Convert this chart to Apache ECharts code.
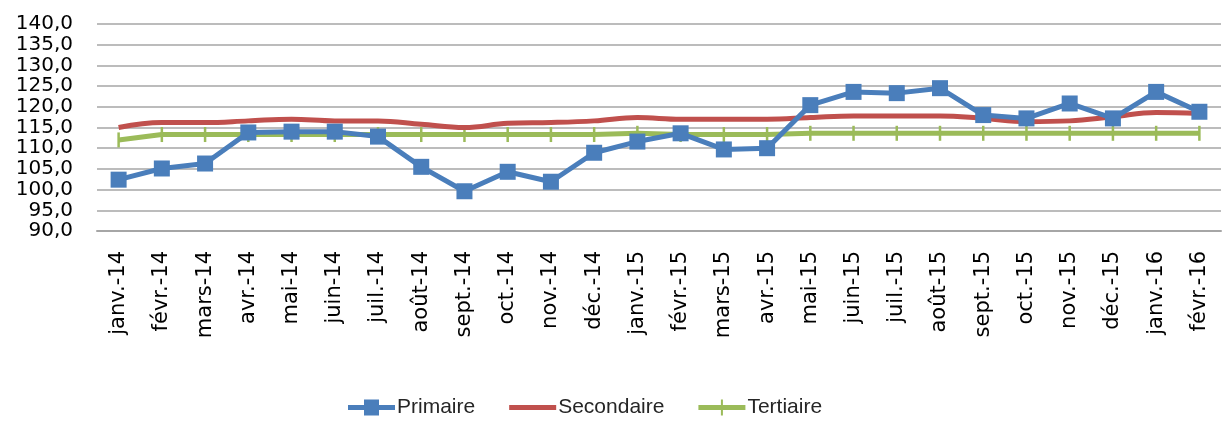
<!DOCTYPE html>
<html>
<head>
<meta charset="utf-8">
<script src="https://cdn.jsdelivr.net/npm/echarts@6/dist/echarts.min.js"></script>
<style>
html,body{margin:0;padding:0;background:#fff;}
#chart{width:1223px;height:423px;}
</style>
</head>
<body>
<div id="chart"></div>
<script>
var categories = ['janv.-14','févr.-14','mars-14','avr.-14','mai-14','juin-14','juil.-14','août-14','sept.-14','oct.-14','nov.-14','déc.-14',
  'janv.-15','févr.-15','mars-15','avr.-15','mai-15','juin-15','juil.-15','août-15','sept.-15','oct.-15','nov.-15','déc.-15','janv.-16','févr.-16'];
var primaire = [102.4,105.1,106.3,113.8,114.0,114.0,112.8,105.5,99.6,104.3,101.9,108.9,
  111.6,113.6,109.7,110.0,120.4,123.6,123.3,124.5,118.0,117.2,120.8,117.2,123.6,118.8];
var secondaire = [115.0,116.2,116.2,116.6,117.0,116.6,116.6,115.8,115.0,116.0,116.2,116.6,
  117.4,117.0,117.0,117.0,117.4,117.8,117.8,117.8,117.2,116.4,116.6,117.6,118.6,118.4];
var tertiaire = [112.0,113.3,113.3,113.3,113.3,113.3,113.3,113.3,113.3,113.3,113.3,113.3,
  113.6,113.3,113.3,113.3,113.6,113.6,113.6,113.6,113.6,113.6,113.6,113.6,113.6,113.6];
var seriesNames = ['Primaire','Secondaire','Tertiaire'];

var iconPrim = 'path://M0,5.5H47V10.5H0Z M16,0H31V16H16Z';
var iconSec = 'path://M0,5.5H47V10.5H0Z M0,0h0.01v0.01h-0.01Z M46.99,15.99h0.01v0.01h-0.01Z';
var iconTer = 'path://M0,5.5H47V10.5H0Z M22.5,0H24.5V16H22.5Z';

var chart = echarts.init(document.getElementById('chart'), null, {renderer:'canvas'});
chart.setOption({
  animation:false,
  backgroundColor:'#fff',
  grid:{left:97,right:2,top:24,bottom:192,containLabel:false},
  legend:{
    data:[{name:seriesNames[0],icon:iconPrim},{name:seriesNames[1],icon:iconSec},{name:seriesNames[2],icon:iconTer}],
    bottom:0,
    left:343,
    itemWidth:47,
    itemHeight:16,
    itemGap:34,
    textStyle:{fontFamily:'"Liberation Sans",sans-serif',fontSize:21,color:'#262626',padding:[0,0,0,-3]}
  },
  xAxis:{
    type:'category',
    data:categories,
    boundaryGap:true,
    axisLine:{show:true,lineStyle:{color:'#A6A6A6',width:2}},
    axisTick:{show:false},
    axisLabel:{interval:0,rotate:90,margin:20,color:'#000',fontFamily:'"DejaVu Sans",sans-serif',fontSize:21}
  },
  yAxis:{
    type:'value',
    min:90,max:140,interval:5,
    axisLine:{show:false},
    axisTick:{show:false},
    splitLine:{show:true,lineStyle:{color:'#A6A6A6',width:1.5}},
    axisLabel:{margin:24,showMinLabel:true,showMaxLabel:true,hideOverlap:false,color:'#000',
      fontFamily:'"DejaVu Sans",sans-serif',fontSize:20,
      formatter:function(v){return v.toFixed(1).replace('.',',');}}
  },
  series:[
    {name:seriesNames[0],type:'line',data:primaire,symbol:'rect',symbolSize:16,
      lineStyle:{color:'#4A7EBB',width:5},itemStyle:{color:'#4A7EBB'},z:3},
    {name:seriesNames[1],type:'line',data:secondaire,symbol:'none',smooth:0.4,
      lineStyle:{color:'#C0504D',width:5},itemStyle:{color:'#C0504D'},z:2},
    {name:seriesNames[2],type:'line',data:tertiaire,symbol:'rect',symbolSize:[2.5,15],
      lineStyle:{color:'#9BBB59',width:5},itemStyle:{color:'#9BBB59'},z:1}
  ]
});
</script>
</body>
</html>
